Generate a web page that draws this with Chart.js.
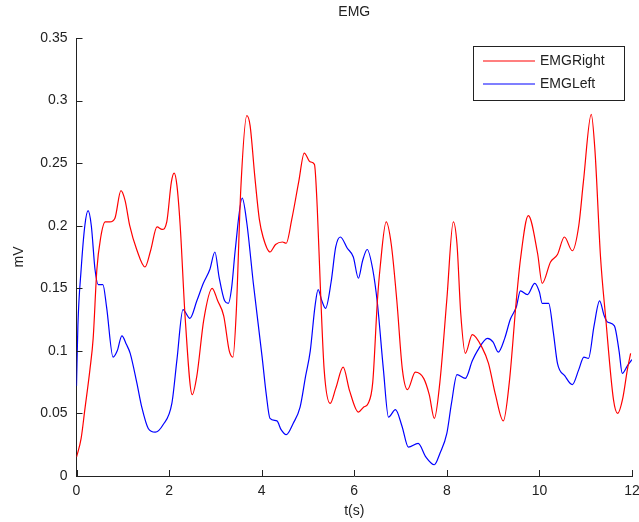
<!DOCTYPE html>
<html>
<head>
<meta charset="utf-8">
<script src="https://cdn.jsdelivr.net/npm/chart.js@4.4.1/dist/chart.umd.min.js"></script>
<style>
  html, body { margin: 0; padding: 0; background: #fff; }
  #wrap { width: 639px; height: 522px; }
</style>
</head>
<body>
<div id="wrap"><canvas id="emgChart" width="639" height="522"></canvas></div>
<script>
// time (s) and amplitude (mV)
const tRight = [0.00, 0.10, 0.18, 0.29, 0.36, 0.44, 0.52, 0.62, 0.72, 0.83, 0.96, 1.05, 1.15, 1.30, 1.48, 1.60, 1.74, 1.85, 1.95, 2.05, 2.11, 2.17, 2.24, 2.35, 2.50, 2.60, 2.75, 2.93, 3.05, 3.18, 3.30, 3.38, 3.45, 3.55, 3.68, 3.75, 3.85, 3.95, 4.03, 4.18, 4.30, 4.45, 4.53, 4.65, 4.80, 4.92, 5.05, 5.14, 5.20, 5.27, 5.35, 5.48, 5.60, 5.76, 5.90, 6.09, 6.20, 6.30, 6.40, 6.50, 6.56, 6.69, 6.80, 6.92, 7.04, 7.15, 7.32, 7.50, 7.62, 7.73, 7.85, 8.00, 8.14, 8.22, 8.30, 8.40, 8.55, 8.77, 8.90, 9.05, 9.22, 9.35, 9.50, 9.59, 9.76, 9.96, 10.06, 10.24, 10.39, 10.54, 10.71, 10.85, 10.95, 11.12, 11.20, 11.32, 11.43, 11.60, 11.69, 11.80, 11.90, 11.97];
const emgRight = [0.015, 0.030, 0.053, 0.085, 0.110, 0.165, 0.190, 0.203, 0.203, 0.206, 0.228, 0.220, 0.200, 0.181, 0.167, 0.180, 0.199, 0.197, 0.203, 0.235, 0.242, 0.232, 0.200, 0.125, 0.065, 0.080, 0.125, 0.150, 0.140, 0.128, 0.100, 0.095, 0.130, 0.230, 0.288, 0.280, 0.240, 0.205, 0.191, 0.179, 0.185, 0.187, 0.186, 0.205, 0.235, 0.258, 0.251, 0.249, 0.215, 0.149, 0.085, 0.058, 0.070, 0.087, 0.068, 0.051, 0.055, 0.058, 0.075, 0.140, 0.167, 0.203, 0.185, 0.140, 0.085, 0.069, 0.083, 0.078, 0.065, 0.046, 0.075, 0.141, 0.203, 0.185, 0.130, 0.098, 0.113, 0.102, 0.090, 0.065, 0.044, 0.075, 0.140, 0.173, 0.208, 0.178, 0.154, 0.171, 0.177, 0.191, 0.180, 0.200, 0.235, 0.289, 0.260, 0.175, 0.127, 0.061, 0.050, 0.062, 0.085, 0.098];

const tLeft = [0.00, 0.03, 0.10, 0.18, 0.25, 0.32, 0.40, 0.47, 0.57, 0.65, 0.79, 0.88, 0.98, 1.08, 1.16, 1.30, 1.41, 1.55, 1.70, 1.87, 2.06, 2.17, 2.30, 2.45, 2.60, 2.74, 2.88, 2.99, 3.08, 3.20, 3.28, 3.35, 3.43, 3.58, 3.68, 3.82, 4.01, 4.10, 4.18, 4.33, 4.42, 4.53, 4.68, 4.83, 4.95, 5.05, 5.15, 5.22, 5.30, 5.38, 5.50, 5.60, 5.70, 5.85, 5.98, 6.09, 6.18, 6.28, 6.40, 6.50, 6.63, 6.74, 6.89, 7.03, 7.17, 7.38, 7.55, 7.73, 7.85, 8.00, 8.10, 8.22, 8.40, 8.55, 8.66, 8.88, 9.00, 9.11, 9.25, 9.37, 9.50, 9.59, 9.74, 9.90, 10.00, 10.06, 10.20, 10.30, 10.39, 10.55, 10.71, 10.85, 10.96, 11.06, 11.18, 11.30, 11.40, 11.47, 11.62, 11.72, 11.79, 11.90, 12.00];
const emgLeft = [0.072, 0.120, 0.165, 0.200, 0.212, 0.200, 0.165, 0.153, 0.153, 0.135, 0.095, 0.100, 0.112, 0.105, 0.098, 0.075, 0.055, 0.038, 0.035, 0.041, 0.058, 0.093, 0.133, 0.126, 0.140, 0.154, 0.165, 0.179, 0.159, 0.140, 0.138, 0.150, 0.181, 0.222, 0.202, 0.154, 0.095, 0.065, 0.046, 0.044, 0.037, 0.033, 0.042, 0.055, 0.080, 0.100, 0.135, 0.149, 0.140, 0.134, 0.155, 0.183, 0.191, 0.182, 0.175, 0.158, 0.172, 0.181, 0.165, 0.138, 0.085, 0.047, 0.053, 0.040, 0.023, 0.026, 0.015, 0.009, 0.018, 0.034, 0.058, 0.081, 0.078, 0.092, 0.100, 0.110, 0.107, 0.099, 0.110, 0.125, 0.135, 0.148, 0.145, 0.154, 0.147, 0.138, 0.138, 0.115, 0.090, 0.080, 0.073, 0.085, 0.095, 0.094, 0.120, 0.140, 0.128, 0.123, 0.120, 0.100, 0.082, 0.088, 0.093];

const xTicks = [0, 2, 4, 6, 8, 10, 12];
const yTickLabels = ["0", "0.05", "0.1", "0.15", "0.2", "0.25", "0.3", "0.35"];

const FONT = "'Liberation Sans', Arial, sans-serif";
const INK = "#222";

const toPoints = (ts, vs) => ts.map((t, i) => ({ x: t, y: vs[i] }));

// MATLAB-style ticks pointing into the plot
const inwardTicks = {
  id: "inwardTicks",
  afterDraw(chart) {
    const { ctx, chartArea, scales } = chart;
    ctx.save();
    ctx.strokeStyle = INK;
    ctx.lineWidth = 1;
    ctx.beginPath();
    scales.x.ticks.forEach((tk) => {
      const px = Math.round(scales.x.getPixelForValue(tk.value)) + 0.5;
      ctx.moveTo(px, chartArea.bottom);
      ctx.lineTo(px, chartArea.bottom - 6);
    });
    scales.y.ticks.forEach((tk) => {
      const py = Math.round(scales.y.getPixelForValue(tk.value)) + 0.5;
      ctx.moveTo(chartArea.left, py);
      ctx.lineTo(chartArea.left + 6, py);
    });
    ctx.stroke();
    ctx.restore();
  },
};

// legend box inside the plot, top right
const boxLegend = {
  id: "boxLegend",
  afterDraw(chart) {
    const { ctx } = chart;
    const left = 473.5, top = 46.5, w = 151, h = 54;
    ctx.save();
    ctx.fillStyle = "#fff";
    ctx.fillRect(left, top, w, h);
    ctx.strokeStyle = INK;
    ctx.lineWidth = 1;
    ctx.strokeRect(left, top, w, h);
    ctx.font = "14px " + FONT;
    ctx.textBaseline = "middle";
    chart.data.datasets.forEach((ds, i) => {
      const y = 61 + i * 23;
      ctx.strokeStyle = ds.borderColor;
      ctx.lineWidth = 1.2;
      ctx.beginPath();
      ctx.moveTo(483, y);
      ctx.lineTo(535, y);
      ctx.stroke();
      ctx.fillStyle = INK;
      ctx.fillText(ds.label, 540, y);
    });
    ctx.restore();
  },
};

new Chart(document.getElementById("emgChart").getContext("2d"), {
  type: "line",
  data: {
    datasets: [
      {
        label: "EMGRight",
        data: toPoints(tRight, emgRight),
        borderColor: "#ff0000",
        borderWidth: 1.2,
        pointRadius: 0,
        cubicInterpolationMode: "monotone",
        fill: false,
      },
      {
        label: "EMGLeft",
        data: toPoints(tLeft, emgLeft),
        borderColor: "#0000ff",
        borderWidth: 1.2,
        pointRadius: 0,
        cubicInterpolationMode: "monotone",
        fill: false,
      },
    ],
  },
  options: {
    responsive: false,
    animation: false,
    layout: { padding: { left: 0, right: 0, top: 0, bottom: 0 } },
    plugins: {
      legend: { display: false },
      tooltip: { enabled: false },
      title: {
        display: true,
        fullSize: false,
        text: "EMG",
        color: INK,
        font: { family: FONT, size: 14, weight: "normal" },
        padding: { top: 4, bottom: 17.2 },
      },
    },
    scales: {
      x: {
        type: "linear",
        min: 0,
        max: 12,
        afterFit: (scale) => {
          scale.height = 46;
          scale.paddingLeft = 0;
          scale.paddingRight = 7;
        },
        afterBuildTicks: (scale) => { scale.ticks = xTicks.map((v) => ({ value: v })); },
        grid: { display: false, drawTicks: false },
        border: { display: true, color: INK, width: 1 },
        ticks: {
          color: INK,
          font: { family: FONT, size: 14 },
          padding: 7,
          maxRotation: 0,
          callback: (v) => String(v),
        },
        title: {
          display: true,
          text: "t(s)",
          color: INK,
          font: { family: FONT, size: 14 },
          padding: { top: 0, bottom: 2.6 },
        },
      },
      y: {
        min: 0,
        max: 0.35,
        afterFit: (scale) => { scale.width = 76.5; },
        afterBuildTicks: (scale) => { scale.ticks = yTickLabels.map((s) => ({ value: parseFloat(s) })); },
        grid: { display: false, drawTicks: false },
        border: { display: true, color: INK, width: 1 },
        ticks: {
          color: INK,
          font: { family: FONT, size: 14 },
          padding: 9,
          callback: (v, i) => yTickLabels[i],
        },
        title: {
          display: true,
          text: "mV",
          color: INK,
          font: { family: FONT, size: 14 },
          padding: { top: 10.6, bottom: 0 },
        },
      },
    },
  },
  plugins: [inwardTicks, boxLegend],
});
</script>
</body>
</html>
